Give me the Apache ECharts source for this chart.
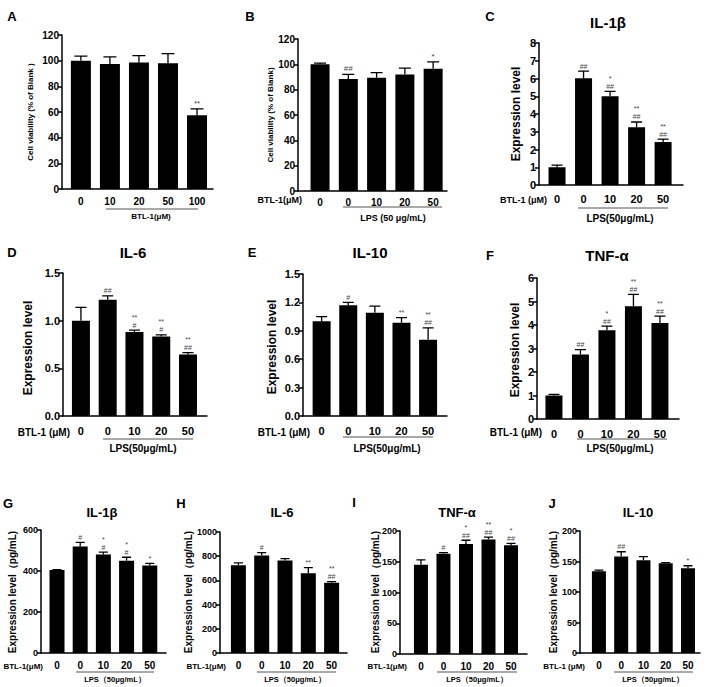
<!DOCTYPE html>
<html><head><meta charset="utf-8">
<script src="https://cdn.jsdelivr.net/npm/echarts@6/dist/echarts.min.js"></script>
<style>html,body{margin:0;padding:0;background:#fff}#c{width:708px;height:687px}</style>
</head><body><div id="c"></div>
<script>
// ---------- data ----------
const catsA = ['0','10','20','50','100'];
const catsLPS = ['0','0','10','20','50'];

const valsA = [100, 97.5, 98.5, 98, 57.5];
const errA  = [3.5, 5.5, 5.5, 7.5, 5];
const sigA  = ['', '', '', '', '**'];

const valsB = [100, 88.5, 89.5, 92, 96.5];
const errB  = [1, 3.5, 4, 5, 5.5];
const sigB  = ['', '##', '', '', '*'];

const valsC = [1.0, 6.02, 5.0, 3.25, 2.42];
const errC  = [0.12, 0.4, 0.28, 0.3, 0.16];
const sigC  = ['', '##', '*\n##', '**\n##', '**\n##'];

const valsD = [1.0, 1.22, 0.88, 0.835, 0.645];
const errD  = [0.14, 0.04, 0.02, 0.015, 0.02];
const sigD  = ['', '##', '**\n#', '**\n#', '**\n##'];

const valsE = [1.0, 1.17, 1.09, 0.985, 0.805];
const errE  = [0.05, 0.03, 0.07, 0.055, 0.125];
const sigE  = ['', '#', '', '**', '**\n##'];

const valsF = [1.0, 2.75, 3.78, 4.8, 4.08];
const errF  = [0.05, 0.2, 0.17, 0.5, 0.3];
const sigF  = ['', '##', '*\n##', '**\n##', '**\n##'];

const valsG = [405, 520, 480, 450, 427];
const errG  = [2, 20, 12, 17, 10];
const sigG  = ['', '#', '*\n#', '*\n#', '*'];

const valsH = [725, 805, 765, 660, 580];
const errH  = [20, 25, 15, 45, 10];
const sigH  = ['', '#', '', '**', '**\n##'];

const valsI = [145, 163, 179, 186, 177];
const errI  = [8, 2, 6, 4, 3];
const sigI  = ['', '#', '*\n##', '**\n##', '*\n##'];

const valsJ = [134, 158, 152, 147, 139];
const errJ  = [2, 8, 6, 1, 4];
const sigJ  = ['', '##', '', '', '*'];

const yMaxes = {A:120, B:120, C:8, D:1.5, E:1.5, F:6, G:600, H:1000, I:200, J:200};
const yIntervals = {A:20, B:20, C:1, D:0.5, E:0.3, F:1, G:200, H:200, I:50, J:50};
const yDecimals = {A:0, B:0, C:0, D:1, E:1, F:0, G:0, H:0, I:0, J:0};

// ---------- layout ----------
const FONT = '"Liberation Sans", Arial, sans-serif';
const layout = {
  A:{left:62, top:35, width:151, height:154, xmin:-0.65, xmax:4.55, bw:20, cap:13, yfs:10, xfs:10, xm:7, sfs:8},
  B:{left:298, top:39, width:149, height:152, xmin:-0.78, xmax:4.49, bw:19, cap:12, yfs:10, xfs:10, xm:6, sfs:8},
  C:{left:539, top:43, width:144, height:142, xmin:-0.68, xmax:4.75, bw:17, cap:11, yfs:11, xfs:11, xm:8, sfs:7},
  D:{left:63, top:273, width:144, height:143, xmin:-0.67, xmax:4.71, bw:18, cap:11, yfs:11, xfs:11, xm:9, sfs:7},
  E:{left:303, top:274, width:144, height:142, xmin:-0.70, xmax:4.71, bw:18, cap:11, yfs:11, xfs:11, xm:9, sfs:7},
  F:{left:537, top:278, width:142, height:141, xmin:-0.64, xmax:4.72, bw:17, cap:11, yfs:11, xfs:11, xm:9, sfs:7},
  G:{left:41, top:530, width:125, height:123, xmin:-0.69, xmax:4.70, bw:15, cap:9, yfs:9, xfs:10, xm:7, sfs:7},
  H:{left:220, top:532, width:127, height:121, xmin:-0.79, xmax:4.66, bw:15, cap:9, yfs:9, xfs:10, xm:7, sfs:7},
  I:{left:400, top:531, width:127, height:123, xmin:-0.93, xmax:4.71, bw:14, cap:9, yfs:9, xfs:10, xm:7, sfs:7},
  J:{left:580, top:531, width:120, height:122, xmin:-0.85, xmax:4.54, bw:14, cap:9, yfs:9, xfs:10, xm:7, sfs:7}
};

const panels = [
  {id:'A', cats:catsA, vals:valsA, err:errA, sig:sigA},
  {id:'B', cats:catsLPS, vals:valsB, err:errB, sig:sigB},
  {id:'C', cats:catsLPS, vals:valsC, err:errC, sig:sigC},
  {id:'D', cats:catsLPS, vals:valsD, err:errD, sig:sigD},
  {id:'E', cats:catsLPS, vals:valsE, err:errE, sig:sigE},
  {id:'F', cats:catsLPS, vals:valsF, err:errF, sig:sigF},
  {id:'G', cats:catsLPS, vals:valsG, err:errG, sig:sigG},
  {id:'H', cats:catsLPS, vals:valsH, err:errH, sig:sigH},
  {id:'I', cats:catsLPS, vals:valsI, err:errI, sig:sigI},
  {id:'J', cats:catsLPS, vals:valsJ, err:errJ, sig:sigJ}
];

// texts
const letters = [['A',12,16],['B',250,16],['C',490,16],['D',12,252],['E',252,252],['F',490,255],
                 ['G',8,503],['H',181,503],['I',354,502],['J',552,503]];
const titles = [['IL-1β',608,22,15],['IL-6',133,252,15],['IL-10',370,252,15],['TNF-α',607,255,15],
                ['IL-1β',102,512,13],['IL-6',282,512,13],['TNF-α',457,512,13],['IL-10',638,512,13]];
const yNames = [['Cell viability (% of Blank )',30,112,8],['Cell viability (% of Blank)',270,115,8],
                ['Expression level',516,114,12],['Expression level',28,348,12],['Expression level',272,347,12],['Expression level',515,350,12],
                ['Expression level（pg/mL)',12,592,10],['Expression level（pg/mL)',188,592,10],['Expression level（pg/mL)',375,592,10],['Expression level（pg/mL)',553,592,10]];
const btlLabels = [['BTL-1(μM)',151,216,8,'center'],['BTL-1(μM)',302,200,9,'right'],['BTL-1 (μM)',547,200,9,'right'],
                   ['BTL-1 (μM)',70,432,10,'right'],['BTL-1 (μM)',310,432,10,'right'],['BTL-1 (μM)',542,432,10,'right'],
                   ['BTL-1(μM)',43,666,8,'right'],['BTL-1(μM)',226,666,8,'right'],['BTL-1(μM)',407,666,8,'right'],['BTL-1 (μM)',585,666,8,'right']];
const lpsLabels = [['LPS (50 μg/mL)',393,218,9],['LPS(50μg/mL)',620,218,10],['LPS(50μg/mL)',143,448,10],
                   ['LPS(50μg/mL)',387,448,10],['LPS(50μg/mL)',620,448,10],
                   ['LPS（50μg/mL）',115,679,7.5],['LPS（50μg/mL）',295,679,7.5],['LPS（50μg/mL）',477,679,7.5],['LPS（50μg/mL）',653,679,7.5]];
const underlines = [[106,198,209],[343,442,207],[578,668,208],[103,193,439],[343,433,437],[577,667,439],
                    [76,154,672],[257,336,672],[437,517,672],[614,693,672]];

// ---------- build ----------
const grid = [], xAxis = [], yAxis = [], series = [];
panels.forEach((p, k) => {
  const L = layout[p.id];
  grid.push({left:L.left, top:L.top, width:L.width, height:L.height, containLabel:false});
  xAxis.push({
    gridIndex:k, type:'value', min:L.xmin, max:L.xmax,
    axisLine:{show:true, onZero:false, lineStyle:{color:'#000', width:1.5}},
    axisTick:{show:false}, splitLine:{show:false},
    axisLabel:{customValues:[0,1,2,3,4], formatter:(v)=>p.cats[Math.round(v)], color:'#000',
               fontWeight:'bold', fontSize:L.xfs, fontFamily:FONT, margin:L.xm}
  });
  const dec = yDecimals[p.id];
  yAxis.push({
    gridIndex:k, type:'value', min:0, max:yMaxes[p.id], interval:yIntervals[p.id], position:'left',
    axisLine:{show:true, onZero:false, lineStyle:{color:'#000', width:1.5}},
    axisTick:{show:true, length:4, lineStyle:{color:'#000', width:1.5}},
    splitLine:{show:false},
    axisLabel:{formatter:(v)=>v.toFixed(dec), color:'#000', fontWeight:'bold', fontSize:L.yfs, fontFamily:FONT, margin:3}
  });
  series.push({
    type:'bar', xAxisIndex:k, yAxisIndex:k, barWidth:L.bw,
    data:p.vals.map((v,i)=>[i,v]), itemStyle:{color:'#000'}, silent:true
  });
  series.push({
    type:'custom', xAxisIndex:k, yAxisIndex:k, silent:true, z:5, clip:false,
    encode:{x:0, y:1},
    data:p.vals.map((v,i)=>[i,v,p.err[i]]),
    renderItem:function(params, api){
      const i = params.dataIndex;
      const x = api.value(0), v = api.value(1), e = api.value(2);
      const b = api.coord([x, v]);
      const t = api.coord([x, v+e]);
      const hw = L.cap/2;
      const ch = [
        {type:'polyline', shape:{points:[[b[0], b[1]], [t[0], t[1]], [t[0]-hw, t[1]], [t[0]+hw, t[1]]]},
         style:{stroke:'#000', lineWidth:1.3, fill:null}}
      ];
      const s = p.sig[i];
      if (s) {
        ch.push({type:'text', x:t[0], y:t[1]-1, style:{text:s, align:'center', verticalAlign:'bottom',
          font:L.sfs+'px '+FONT, fill:'#444', lineHeight:L.sfs+1}});
      }
      return {type:'group', children:ch};
    }
  });
});

const graphic = [];
letters.forEach(([t,x,y]) => graphic.push({type:'text', x, y, style:{text:t, font:'bold 13px '+FONT, fill:'#000', align:'center', verticalAlign:'middle'}}));
titles.forEach(([t,x,y,fs]) => graphic.push({type:'text', x, y, style:{text:t, font:'bold '+fs+'px '+FONT, fill:'#000', align:'center', verticalAlign:'middle'}}));
yNames.forEach(([t,x,y,fs]) => graphic.push({type:'text', x, y, rotation:Math.PI/2, style:{text:t, font:'bold '+fs+'px '+FONT, fill:'#000', align:'center', verticalAlign:'middle'}}));
btlLabels.forEach(([t,x,y,fs,al]) => graphic.push({type:'text', x, y, style:{text:t, font:'bold '+fs+'px '+FONT, fill:'#000', align:al, verticalAlign:'middle'}}));
lpsLabels.forEach(([t,x,y,fs]) => graphic.push({type:'text', x, y, style:{text:t, font:'bold '+fs+'px '+FONT, fill:'#000', align:'center', verticalAlign:'middle'}}));
underlines.forEach(([x1,x2,y]) => graphic.push({type:'line', shape:{x1, y1:y, x2, y2:y}, style:{stroke:'#8c8c8c', lineWidth:1.5}}));

const chart = echarts.init(document.getElementById('c'), null, {renderer:'svg'});
chart.setOption({animation:false, backgroundColor:'#fff', grid, xAxis, yAxis, series, graphic});
</script>
</body></html>
